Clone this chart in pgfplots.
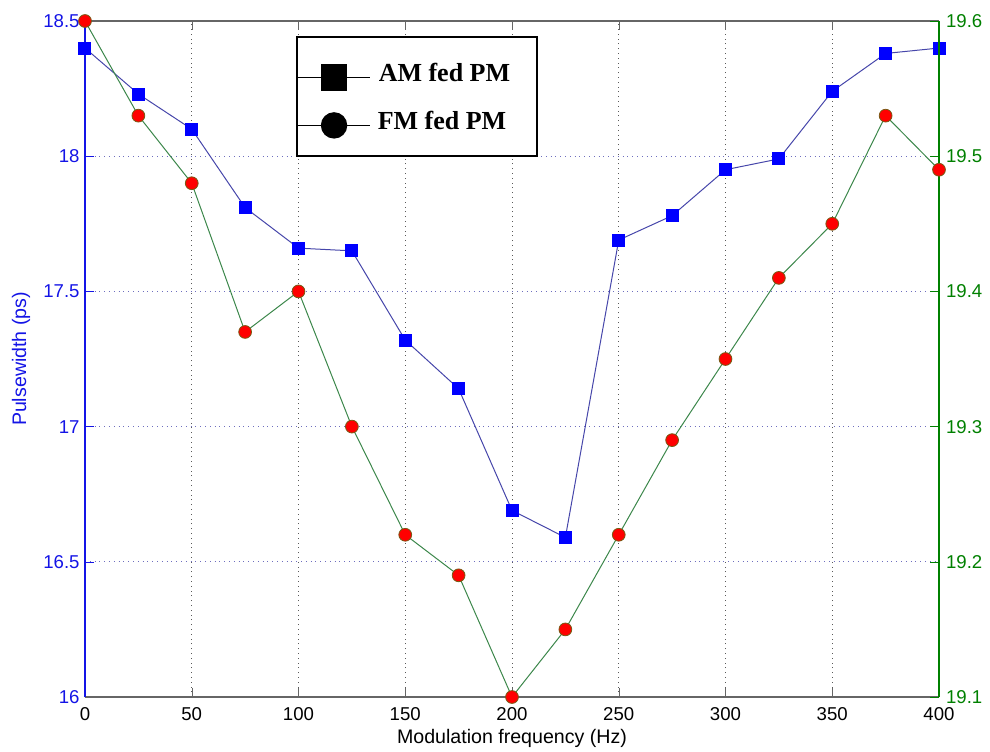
\documentclass[border=0pt]{standalone}
\usepackage{pgfplots}
\pgfplotsset{compat=1.18}
\usepackage{pgfplotstable}
\usepackage{fontspec}
\setmainfont{Liberation Sans}
\newfontfamily\timesfont{Liberation Serif}
\definecolor{axblue}{RGB}{20,20,230}
\definecolor{axgreen}{RGB}{0,128,0}
\definecolor{lnblue}{RGB}{70,70,170}
\definecolor{lngreen}{RGB}{60,135,75}
\definecolor{mkblue}{RGB}{0,0,255}
\definecolor{mkred}{RGB}{255,0,0}
\definecolor{mkedge}{RGB}{120,90,20}
\definecolor{gridgray}{RGB}{90,90,90}
\definecolor{gridblue}{RGB}{110,110,190}

\pgfplotstableread{
x y
0 18.40
25 18.23
50 18.10
75 17.81
100 17.66
125 17.65
150 17.32
175 17.14
200 16.69
225 16.59
250 17.69
275 17.78
300 17.95
325 17.99
350 18.24
375 18.38
400 18.40
}\amdata

\pgfplotstableread{
x y
0 19.60
25 19.53
50 19.48
75 19.37
100 19.40
125 19.30
150 19.22
175 19.19
200 19.10
225 19.15
250 19.22
275 19.29
300 19.35
325 19.41
350 19.45
375 19.53
400 19.49
}\fmdata

\begin{document}
\begin{tikzpicture}
\path[use as bounding box] (-42.5pt,-27pt) rectangle (452.5pt,348.5pt);
\pgfplotsset{
  common/.style={
    scale only axis, width=427pt, height=338pt,
    xmin=0, xmax=400, clip=false,
    tick align=inside, major tick length=4.5pt,
    /pgf/number format/assume math mode=true,
    tick label style={font=\fontsize{9.3}{11}\selectfont},
    label style={font=\fontsize{9.8}{11}\selectfont},
  }
}
\begin{axis}[common,
  axis x line*=box, axis y line*=left,
  ymin=16, ymax=18.5,
  xtick={0,50,100,150,200,250,300,350,400},
  ytick={16,16.5,17,17.5,18,18.5},
  xmajorgrids, ymajorgrids,
  x grid style={dotted, gridgray, line width=0.5pt},
  y grid style={dotted, gridblue, line width=0.5pt},
  x axis line style={black!60, line width=0.6pt},
  y axis line style={axblue, line width=0.6pt},
  ytick style={axblue},
  xtick style={black!60},
  yticklabel style={text=axblue, xshift=0.8pt},
  xticklabel style={yshift=-1.5pt},
  xlabel={Modulation frequency (Hz)},
  ylabel={Pulsewidth (ps)},
  xlabel style={at={(axis description cs:0.5,-0.0614)}, anchor=center},
  ylabel style={at={(axis description cs:-0.0749,0.5)}, anchor=center, text=axblue},
]
\addplot[lnblue, line width=0.5pt, mark=square*, mark size=3pt,
  mark options={fill=mkblue, draw=mkblue}] table {\amdata};
\end{axis}
\begin{axis}[common,
  axis x line=none, axis y line*=right,
  ymin=19.1, ymax=19.6,
  ytick={19.1,19.2,19.3,19.4,19.5,19.6},
  y axis line style={axgreen, line width=0.6pt},
  ytick style={axgreen},
  yticklabel style={text=axgreen},
  legend style={at={(0.2482,0.9435)}, anchor=north west, draw=none,
    fill=none, inner sep=0pt, row sep=5.9pt,
    font=\timesfont\bfseries\fontsize{13}{15}\selectfont,
    cells={anchor=west}},
  legend image code/.code={\draw[mark repeat=2, mark phase=2]
    plot coordinates {(0pt,0pt)(18pt,0pt)(36pt,0pt)};
    \path[draw=none, fill=none] (0pt,-9pt) rectangle (0.1pt,9pt);},
]
\addlegendimage{black, line width=0.7pt, mark=square*, mark size=6.3pt, mark options={solid, fill=black}}
\addlegendentry{\hspace{2pt}\raisebox{1.75pt}[8.9pt][0pt]{AM fed PM}}
\addlegendimage{black, line width=0.7pt, mark=*, mark size=6.25pt, mark options={solid, fill=black}}
\addlegendentry{\hspace{1.5pt}\raisebox{1.75pt}[8.9pt][0pt]{FM fed PM}}
\addplot[lngreen, line width=0.5pt, mark=*, mark size=3.2pt,
  mark options={fill=mkred, draw=mkedge, line width=0.4pt}, forget plot] table {\fmdata};
\draw[black, line width=0.85pt, fill=white]
  (axis description cs:0.2482,0.9768) rectangle (axis description cs:0.5293,0.8003);
\end{axis}
\end{tikzpicture}
\end{document}
